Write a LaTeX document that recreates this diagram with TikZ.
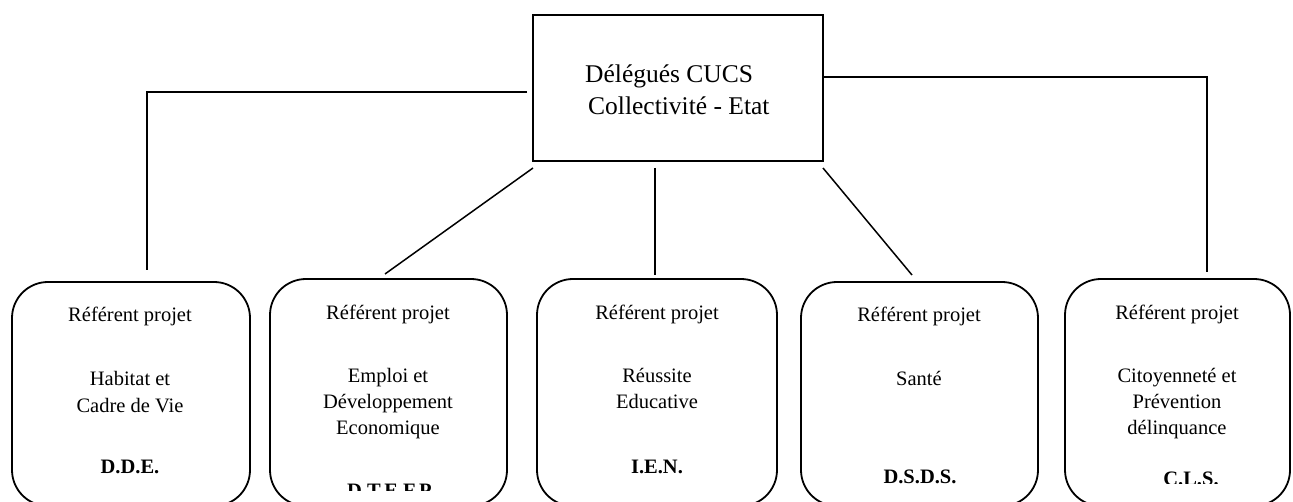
\documentclass[tikz,border=0pt]{standalone}
\usepackage{fontspec}
\setmainfont{Liberation Serif}
\begin{document}
\begin{tikzpicture}[x=1pt,y=-1pt,
  refbox/.style={draw, line width=1.8pt, rounded corners=36pt, inner sep=0pt},
  topbox/.style={draw, line width=1.2pt, inner sep=0pt, minimum width=290pt, minimum height=146pt},
  conn/.style={line width=1.5pt},
  txt/.style={anchor=base, inner sep=0pt, font=\fontsize{20.5}{26}\selectfont},
  bigtxt/.style={anchor=base west, inner sep=0pt, font=\fontsize{25.5}{32}\selectfont},
  lbl/.style={anchor=base, inner sep=0pt, font=\bfseries\fontsize{20.5}{26}\selectfont}]
\useasboundingbox (0,0) rectangle (1293,502);
\clip (0,0) rectangle (1293,502);

% top box
\node[topbox] (top) at (678,88) {};
\node[bigtxt] (t1) at (585,83) {Délégués CUCS};
\node[bigtxt] (t2) at (588,115) {Collectivité - Etat};

% bottom boxes
\node[refbox, minimum width=238pt, minimum height=224pt] (b1) at (131,394) {};
\node[refbox, minimum width=237pt, minimum height=227pt] (b2) at (388.5,392.5) {};
\node[refbox, minimum width=240pt, minimum height=227pt] (b3) at (657,392.5) {};
\node[refbox, minimum width=237pt, minimum height=224pt] (b4) at (919.5,394) {};
\node[refbox, minimum width=225pt, minimum height=227pt] (b5) at (1177.5,392.5) {};

% connector points
\coordinate (l0) at (527,92);
\coordinate (l1) at (147,92);
\coordinate (l2) at (147,270);
\coordinate (r0) at (823,77);
\coordinate (r1) at (1207,77);
\coordinate (r2) at (1207,272);
\coordinate (d1a) at (533,168);
\coordinate (d1b) at (385,274);
\coordinate (m1a) at (655,168);
\coordinate (m1b) at (655,275);
\coordinate (d2a) at (823,168);
\coordinate (d2b) at (912,275);

\draw[conn] (l0) -- (l1) -- (l2);
\draw[conn] (r0) -- (r1) -- (r2);
\draw[conn] (d1a) -- (d1b);
\draw[conn] (m1a) -- (m1b);
\draw[conn] (d2a) -- (d2b);

% box 1
\node[txt] (a1) at (130,322) {Référent projet};
\node[txt] (a2) at (130,386) {Habitat et};
\node[txt] (a3) at (130,412) {Cadre de Vie};
\node[lbl] (a4) at (130,473) {D.D.E.};

% box 2
\node[txt] (c1) at (388,320) {Référent projet};
\node[txt] (c2) at (388,383) {Emploi et};
\node[txt] (c3) at (388,409) {Développement};
\node[txt] (c4) at (388,435) {Economique};
\begin{scope}
\clip (270,470) rectangle (507,490);
\node[lbl] (c5) at (391,497) {D.T.E.F.P.};
\end{scope}

% box 3
\node[txt] (e1) at (657,320) {Référent projet};
\node[txt] (e2) at (657,383) {Réussite};
\node[txt] (e3) at (657,409) {Educative};
\node[lbl] (e4) at (657,473) {I.E.N.};

% box 4
\node[txt] (s1) at (919,322) {Référent projet};
\node[txt] (s2) at (919,385) {Santé};
\node[lbl] (s3) at (920,483) {D.S.D.S.};

% box 5
\node[txt] (g1) at (1177,320) {Référent projet};
\node[txt] (g2) at (1177,383) {Citoyenneté et};
\node[txt] (g3) at (1177,409) {Prévention};
\node[txt] (g4) at (1177,435) {délinquance};
\begin{scope}
\clip (1065,460) rectangle (1290,483);
\node[lbl] (g5) at (1191,485) {C.L.S.};
\end{scope}
\end{tikzpicture}
\end{document}
